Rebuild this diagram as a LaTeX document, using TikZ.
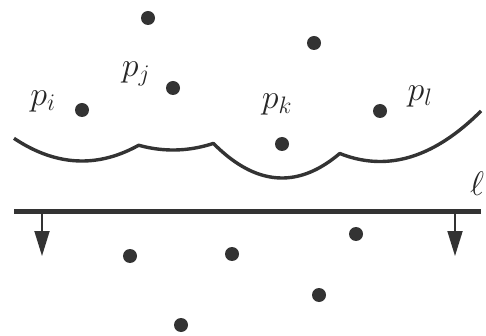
\RequirePackage{fix-cm}
\documentclass[tikz,border=0pt]{standalone}
\usetikzlibrary{arrows.meta}
\tikzset{
  site/.style={circle, fill=black!80, inner sep=0pt, minimum size=14pt},
  lab/.style={font=\fontsize{34}{40}\selectfont, text=black!85},
  sweep/.style={line width=5pt, black!80},
  down/.style={-{Triangle[length=25pt,width=15pt]}, line width=1.8pt, black!80},
}
\begin{document}
\begin{tikzpicture}[x=1pt,y=-1pt]
\useasboundingbox (0,0) rectangle (486,336);
% sites above the sweep line
\node[site] (a) at (148,18) {};
\node[site] (b) at (314,43) {};
\node[site] (pj) at (173,88) {};
\node[site] (pi) at (82,110) {};
\node[site] (pk) at (282,144) {};
\node[site] (pl) at (380,111) {};
\node[lab] (lpi) at (43,101) {$p_i$};
\node[lab] (lpj) at (136,74) {$p_j$};
\node[lab] (lpk) at (277,104) {$p_k$};
\node[lab] (lpl) at (420,96) {$p_l$};
% sites below the sweep line
\node[site] (c) at (130,256) {};
\node[site] (d) at (232,254) {};
\node[site] (e) at (356,234) {};
\node[site] (f) at (319,295) {};
\node[site] (g) at (181,325) {};
% beach line: parabolas with directrix y=212
\draw[line width=3.4pt, black!80, line join=round]
  plot[domain=14:138.6, samples=40, smooth] (\x,{161-(\x-82)^2/204})
  -- plot[domain=138.6:213.4, samples=25, smooth] (\x,{150-(\x-173)^2/248})
  -- plot[domain=213.4:339.8, samples=40, smooth] (\x,{178-(\x-282)^2/136})
  -- plot[domain=339.8:481, samples=40, smooth] (\x,{161.5-(\x-380)^2/202});
% sweep line
\coordinate (sl) at (14,212);
\coordinate (sr) at (481,212);
\draw[sweep] (sl) -- (sr);
\node[lab] (ell) at (477,184) {$\ell$};
\coordinate (al) at (42,214);
\coordinate (ar) at (455,214);
\coordinate (alend) at (42,256);
\coordinate (arend) at (455,256);
\draw[down] (al) -- (alend);
\draw[down] (ar) -- (arend);
\end{tikzpicture}
\end{document}
